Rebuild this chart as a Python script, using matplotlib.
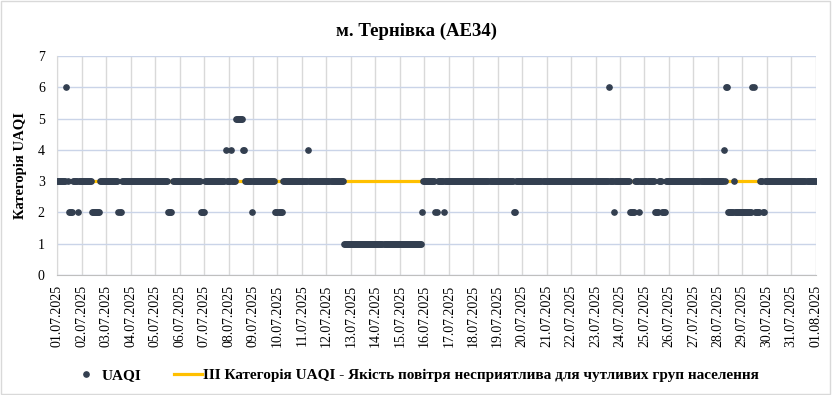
import matplotlib
matplotlib.use("Agg")
import matplotlib.pyplot as plt
import matplotlib.dates as mdates
from matplotlib.patches import Rectangle
import numpy as np
import pandas as pd

plt.rcParams['font.family'] = ['Liberation Serif', 'DejaVu Serif']

# UAQI category, hourly from 01.07.2025 00:00, as runs: value and end hour (exclusive)
run_values = [3, 6, 3, 2, 3, 2, 3, 2, 3, 2, 3, 2, 3, 2, 3, 4, 3, 4, 3, 5,
              4, 3, 2, 3, 2, 3, 4, 3, 1, 2, 3, 2, 3, 2, 3, 2, 3, 6, 3, 2,
              3, 2, 3, 2, 3, 2, 3, 2, 3, 4, 3, 6, 2, 3, 2, 6, 2, 3, 2, 3]
run_ends = [9, 10, 11, 15, 20, 21, 34, 42, 60, 63, 109, 113, 141, 145, 165, 166, 170, 171, 175, 182,
            184, 191, 192, 214, 221, 246, 247, 281, 358, 359, 371, 373, 379, 380, 448, 450, 541, 542, 546, 547,
            562, 567, 571, 572, 586, 590, 593, 597, 654, 655, 656, 658, 664, 665, 682, 684, 689, 692, 694, 745]

threshold = 3
start_date = '2025-07-01'
end_date = '2025-08-01'

lengths = np.diff([0] + run_ends)
uaqi = np.repeat(run_values, lengths)
times = pd.date_range(start_date, periods=len(uaqi), freq='h')

fig = plt.figure(figsize=(8.32, 3.95), dpi=100)
ax = fig.add_axes([0.0689, 0.3038, 0.9115, 0.5545])

# threshold line (III category), drawn under the dots
ax.plot([times[0], times[-1]], [threshold, threshold], color='#FFC000', lw=2.3, zorder=2,
        label='ІІІ Категорія UAQI - Якість повітря несприятлива для чутливих груп населення')
ax.plot(times, uaqi, linestyle='none', marker='o', ms=3.8, color='#333F50', zorder=3, label='UAQI')

ax.set_xlim(pd.Timestamp(start_date), pd.Timestamp(end_date))
ax.set_ylim(0, 7)
ax.set_yticks(range(0, 8))
ax.xaxis.set_major_locator(mdates.DayLocator())
ax.xaxis.set_major_formatter(mdates.DateFormatter('%d.%m.%Y'))
plt.setp(ax.get_xticklabels(), rotation=90, ha='center', va='top')
ax.tick_params(axis='both', length=0, labelsize=10, colors='#000000')
ax.tick_params(axis='x', pad=7)
ax.tick_params(axis='y', pad=9)

ax.grid(axis='y', color='#CAD4E8', lw=1)
ax.grid(axis='x', color='#D9D9D9', lw=1)
ax.set_axisbelow(True)
for s in ['top', 'right']:
    ax.spines[s].set_visible(False)
ax.spines['left'].set_color('#D9D9D9')
ax.spines['bottom'].set_color('#BFBFBF')

fig.text(0.5, 0.92, 'м. Тернівка (AE34)', fontsize=13.5, fontweight='bold', ha='center', va='center')
ax.set_ylabel('Категорія UAQI', fontsize=10.5, fontweight='bold', labelpad=8)

handles, labels = ax.get_legend_handles_labels()
fig.legend(handles[::-1], labels[::-1], loc='center', bbox_to_anchor=(0.4995, 0.05), ncol=2,
           frameon=False, prop={'weight': 'bold', 'size': 11}, handlelength=1.83,
           columnspacing=2.1, handletextpad=0.1, borderpad=0)

fig.patches.append(Rectangle((0.001, 0.002), 0.997, 0.995, transform=fig.transFigure,
                             fill=False, edgecolor='#D9D9D9', lw=1))

plt.savefig('out.png', dpi=100)
